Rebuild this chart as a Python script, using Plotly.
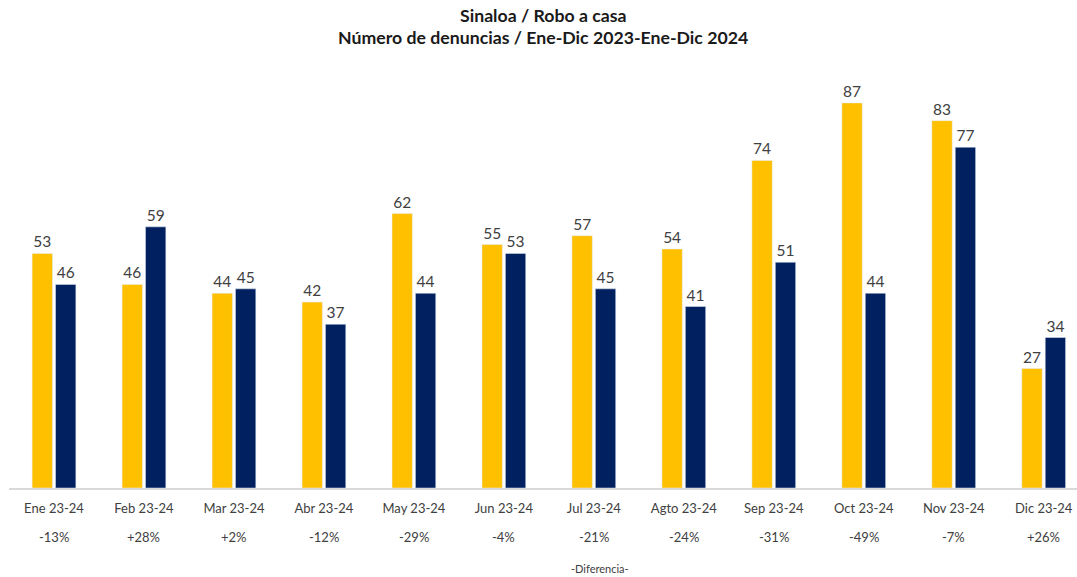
import plotly.graph_objects as go

categories = ["Ene 23-24", "Feb 23-24", "Mar 23-24", "Abr 23-24", "May 23-24", "Jun 23-24",
              "Jul 23-24", "Agto 23-24", "Sep 23-24", "Oct 23-24", "Nov 23-24", "Dic 23-24"]
values_2023 = [53, 46, 44, 42, 62, 55, 57, 54, 74, 87, 83, 27]
values_2024 = [46, 59, 45, 37, 44, 53, 45, 41, 51, 44, 77, 34]
differences = ["-13%", "+28%", "+2%", "-12%", "-29%", "-4%", "-21%", "-24%", "-31%", "-49%", "-7%", "+26%"]

FONT = "Lato, 'Open Sans', sans-serif"
TXT = "#404040"

fig = go.Figure()
fig.add_trace(go.Bar(x=categories, y=values_2023, name="2023", marker_color="#FFC000",
                     text=values_2023, textposition="outside", cliponaxis=False,
                     textfont=dict(size=15.5, color=TXT, family=FONT)))
fig.add_trace(go.Bar(x=categories, y=values_2024, name="2024", marker_color="#002060",
                     text=values_2024, textposition="outside", cliponaxis=False,
                     textfont=dict(size=15.5, color=TXT, family=FONT)))

annotations = []
for c, d in zip(categories, differences):
    annotations.append(dict(x=c, y=0, xref="x", yref="paper", yanchor="middle", text=d,
                            showarrow=False, yshift=-49, font=dict(size=13, color=TXT, family=FONT)))
annotations.append(dict(x=0.553, y=0, xref="paper", yref="paper", yanchor="middle", text="-Diferencia-",
                        showarrow=False, yshift=-80, font=dict(size=11, color=TXT, family=FONT)))
annotations.append(dict(x=0.5, y=1, xref="paper", yref="paper", yanchor="middle",
                        text="<b>Sinaloa / Robo a casa</b>",
                        showarrow=False, yshift=45, font=dict(size=17.7, color="#1a1a1a", family=FONT)))
annotations.append(dict(x=0.5, y=1, xref="paper", yref="paper", yanchor="middle",
                        text="<b>Número de denuncias / Ene-Dic 2023-Ene-Dic 2024</b>",
                        showarrow=False, yshift=23, font=dict(size=17.7, color="#1a1a1a", family=FONT)))

fig.update_layout(
    width=1077, height=577,
    margin=dict(l=9, r=0, t=60, b=89, autoexpand=False),
    paper_bgcolor="white", plot_bgcolor="white",
    barmode="group", bargap=0.48, bargroupgap=0.13,
    showlegend=False,
    xaxis=dict(showline=True, linecolor="#d9d9d9", linewidth=2, ticks="", automargin=False,
               range=[-0.5, 11.37], ticklabelstandoff=7,
               tickfont=dict(size=13, color=TXT, family=FONT)),
    yaxis=dict(visible=False, range=[0, 96.7], automargin=False),
    annotations=annotations,
    font=dict(family=FONT),
)

fig.write_html("out.html", config={"displayModeBar": False},
               post_script="document.body.style.margin='0';")
